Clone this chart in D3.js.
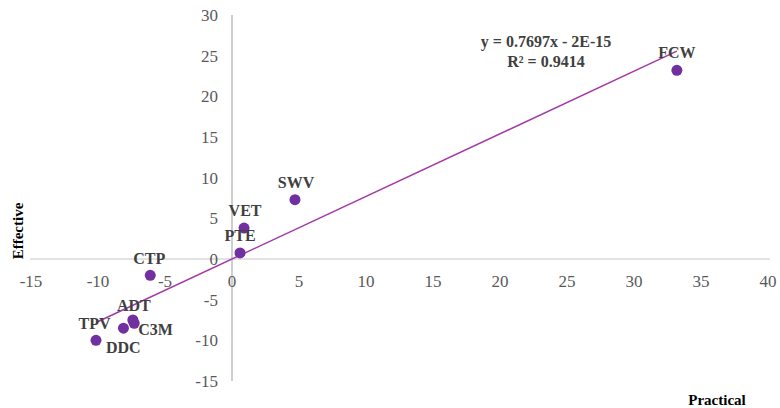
<!DOCTYPE html>
<html><head><meta charset="utf-8">
<script src="https://cdn.jsdelivr.net/npm/d3@7"></script>
<style>body{margin:0;background:#fff} svg text{font-family:"Liberation Serif","DejaVu Serif",serif;}</style>
</head><body>
<svg id="c" width="780" height="408"></svg>
<script>
const labels = ["FCW","SWV","VET","PTE","CTP","ADT","C3M","TPV","DDC"];
const practical = [33.2, 4.7, 0.9, 0.6, -6.1, -7.4, -7.3, -8.1, -10.15];
const effective = [23.2, 7.3, 3.8, 0.75, -2.0, -7.5, -7.9, -8.5, -10.0];
const xTicks = [-15,-10,-5,0,5,10,15,20,25,30,35,40];
const yTicks = [-15,-10,-5,0,5,10,15,20,25,30];
const slope = 0.7697, intercept = 0;
const eqText = ["y = 0.7697x - 2E-15", "R² = 0.9414"];
const place = {
  FCW:[0,-12,"middle"], SWV:[1,-12,"middle"], VET:[1,-12,"middle"], PTE:[0,-12,"middle"],
  CTP:[-1,-11,"middle"], ADT:[1,-9,"middle"], C3M:[4,12,"start"], TPV:[-13,1,"end"], DDC:[10,13,"start"]
};

const svg = d3.select("#c");
const x = d3.scaleLinear().domain([-15,40]).range([31,768]);
const y = d3.scaleLinear().domain([-15,30]).range([381,15]);

svg.append("line").attr("x1",30).attr("x2",770).attr("y1",y(0)).attr("y2",y(0))
  .attr("stroke","#d9d9d9").attr("stroke-width",1.5);
svg.append("line").attr("x1",x(0)).attr("x2",x(0)).attr("y1",y(30)).attr("y2",y(-15))
  .attr("stroke","#bfbfbf").attr("stroke-width",1.5);

svg.append("g").selectAll("text").data(xTicks).join("text")
  .attr("x",d=>x(d)).attr("y",y(0)+28).attr("text-anchor","middle")
  .attr("font-size",17).attr("fill","#595959").text(d=>d);
svg.append("g").selectAll("text").data(yTicks).join("text")
  .attr("x",x(0)-14).attr("y",d=>y(d)+6).attr("text-anchor","end")
  .attr("font-size",17).attr("fill","#595959").text(d=>d);

const xmin = d3.min(practical), xmax = d3.max(practical);
svg.append("line").attr("x1",x(xmin)).attr("y1",y(slope*xmin+intercept))
  .attr("x2",x(xmax)).attr("y2",y(slope*xmax+intercept))
  .attr("stroke","#a23aa8").attr("stroke-width",1.5);

const data = labels.map((l,i)=>({l, px:practical[i], ef:effective[i]}));
svg.append("g").selectAll("circle").data(data).join("circle")
  .attr("cx",d=>x(d.px)).attr("cy",d=>y(d.ef)).attr("r",5.5).attr("fill","#7030a0");

svg.append("g").selectAll("text").data(data).join("text")
  .attr("x",d=>x(d.px)+place[d.l][0]).attr("y",d=>y(d.ef)+place[d.l][1])
  .attr("text-anchor",d=>place[d.l][2])
  .attr("font-size",16).attr("font-weight","bold")
  .attr("fill","#404040").text(d=>d.l);

svg.append("g").selectAll("text").data(eqText).join("text")
  .attr("x",546).attr("y",(d,i)=>47+i*20).attr("text-anchor","middle")
  .attr("font-size",16).attr("font-weight","bold")
  .attr("fill","#404040").text(d=>d);

svg.append("text").attr("x",717).attr("y",405).attr("text-anchor","middle")
  .attr("font-size",15).attr("font-weight","bold").attr("fill","#000").text("Practical");
svg.append("text").attr("transform","translate(23,231) rotate(-90)").attr("text-anchor","middle")
  .attr("font-size",15).attr("font-weight","bold").attr("fill","#000").text("Effective");
</script>
</body></html>
